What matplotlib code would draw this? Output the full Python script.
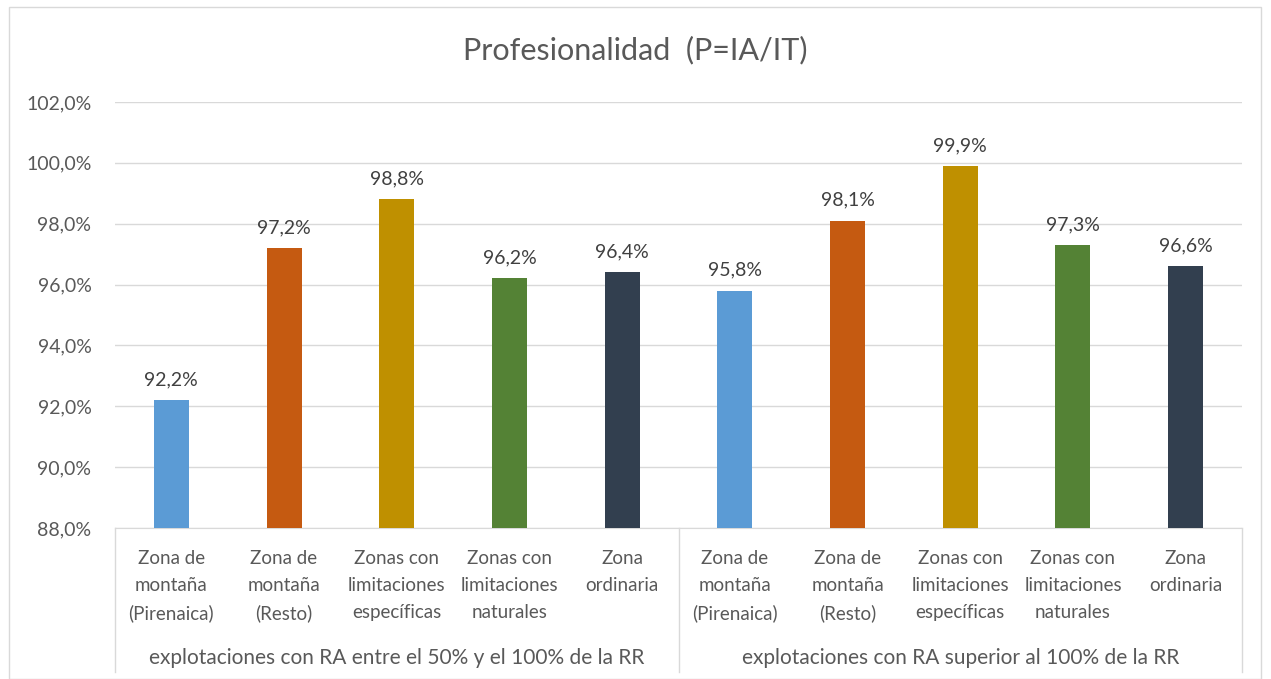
import matplotlib
matplotlib.use("Agg")
import matplotlib.pyplot as plt
from matplotlib.patches import Rectangle
from matplotlib.lines import Line2D

title = "Profesionalidad  (P=IA/IT)"
categories = ["Zona de\nmontaña\n(Pirenaica)", "Zona de\nmontaña\n(Resto)",
              "Zonas con\nlimitaciones\nespecíficas", "Zonas con\nlimitaciones\nnaturales",
              "Zona\nordinaria"]
groups = ["explotaciones con RA entre el 50% y el 100% de la RR",
          "explotaciones con RA superior al 100% de la RR"]
values_g1 = [92.2, 97.2, 98.8, 96.2, 96.4]
values_g2 = [95.8, 98.1, 99.9, 97.3, 96.6]
colors = ["#5B9BD5", "#C55A11", "#BF9000", "#548235", "#323F4F"]
yticks = [88, 90, 92, 94, 96, 98, 100, 102]

plt.rcParams['font.family'] = ['Lato', 'DejaVu Sans']
txt = "#595959"

fig = plt.figure(figsize=(12.71, 6.79), dpi=100)
W, H = 1271, 679
x0, x1, ytop, ybot = 115, 1242, 102, 528
ax = fig.add_axes([x0 / W, 1 - ybot / H, (x1 - x0) / W, (ybot - ytop) / H])

vals = values_g1 + values_g2
cols = colors + colors
xs = list(range(len(vals)))
ax.bar(xs, [v - 88 for v in vals], bottom=88, width=0.31, color=cols, zorder=3)
for x, v in zip(xs, vals):
    ax.annotate(f"{v:.1f}%".replace(".", ","), (x, v), xytext=(0, 12),
                textcoords="offset pixels", ha="center", va="bottom",
                fontsize=14, color="#404040")

ax.set_xlim(-0.5, len(vals) - 0.5)
ax.set_ylim(88, 102)
ax.set_yticks(yticks)
ax.set_yticklabels([f"{t:.1f}%".replace(".", ",") for t in yticks], fontsize=14, color=txt)
ax.tick_params(axis='y', length=0, pad=17)
ax.set_xticks([])
ax.grid(axis='y', color="#D9D9D9", linewidth=1, zorder=0)
for s in ["top", "right", "left"]:
    ax.spines[s].set_visible(False)
ax.spines["bottom"].set_color("#D9D9D9")

# category labels
for x, lab in zip(xs, categories + categories):
    ax.annotate(lab, (x, 88), xytext=(0, -22), textcoords="offset pixels",
                ha="center", va="top", fontsize=13.5, color=txt, linespacing=1.7,
                annotation_clip=False)
for gi, g in enumerate(groups):
    ax.annotate(g, (gi * 5 + 2, 88), xytext=(0, -130), textcoords="offset pixels",
                ha="center", va="center", fontsize=15, color=txt, annotation_clip=False)

# separators below axis
for xp in [x0, (x0 + x1) / 2, x1]:
    fig.add_artist(Line2D([xp / W, xp / W], [1 - ybot / H, 1 - 672 / H],
                          color="#D9D9D9", linewidth=1, transform=fig.transFigure))

fig.text(0.5, 1 - 50 / H, title, ha="center", va="center", fontsize=22, color=txt)

fig.add_artist(Rectangle((9 / W, 0), (1261 - 9) / W, 1 - 7 / H, fill=False,
                         edgecolor="#D9D9D9", linewidth=1, transform=fig.transFigure))

fig.savefig("out.png", dpi=100)
